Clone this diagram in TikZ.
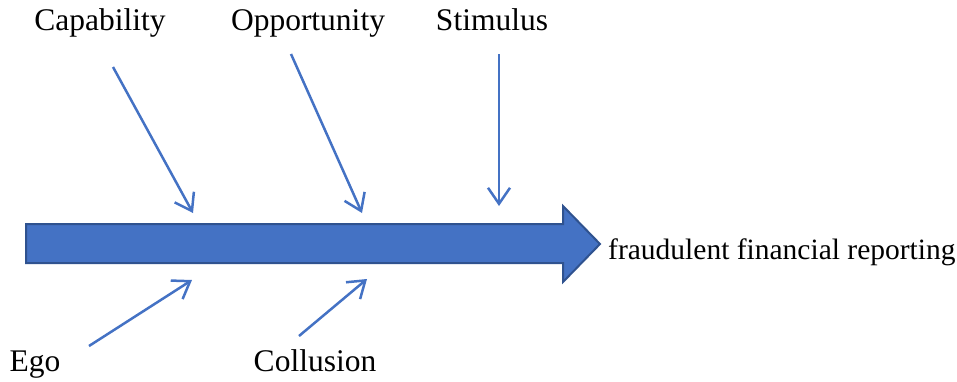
\documentclass[tikz,border=0pt]{standalone}
\usepackage{fontspec}
\setmainfont{Liberation Serif}
\usetikzlibrary{arrows.meta}
\definecolor{accent}{HTML}{4472C4}
\definecolor{accentdark}{HTML}{2F528F}
\begin{document}
\begin{tikzpicture}[x=1pt,y=-1pt,
  lbl/.style={font=\fontsize{31.5}{36}\selectfont, inner sep=0pt, anchor=base},
  outlbl/.style={font=\fontsize{29.5}{34}\selectfont, inner sep=0pt, anchor=base west},
  feed/.style={draw=accent, line width=2.5pt, -{Straight Barb[length=16pt,width=22pt,line width=2.5pt]}},
  bigarrow/.style={fill=accent, draw=accentdark, line width=2pt, line join=miter}]
\useasboundingbox (0,0) rectangle (957,381);
\draw[bigarrow] (26,224) -- (563,224) -- (563,206) -- (600,244) -- (563,282) -- (563,263) -- (26,263) -- cycle;
\node[outlbl] (out) at (608,259) {fraudulent financial reporting};
\node[lbl] (cap) at (100,30) {Capability};
\node[lbl] (opp) at (308,30) {Opportunity};
\node[lbl] (sti) at (492,30) {Stimulus};
\node[lbl] (ego) at (35,371) {Ego};
\node[lbl] (col) at (315,371) {Collusion};
\coordinate (cs) at (113,67);  \coordinate (ce) at (193,213);
\coordinate (os) at (291,54);  \coordinate (oe) at (362,213);
\coordinate (ss) at (499,54);  \coordinate (se) at (499,206);
\coordinate (es) at (89,346);  \coordinate (ee) at (192,280);
\coordinate (ls) at (299,336); \coordinate (le) at (367,279);
\draw[feed] (cs) -- (ce);
\draw[feed] (os) -- (oe);
\draw[feed] (ss) -- (se);
\draw[feed] (es) -- (ee);
\draw[feed] (ls) -- (le);
\end{tikzpicture}
\end{document}
